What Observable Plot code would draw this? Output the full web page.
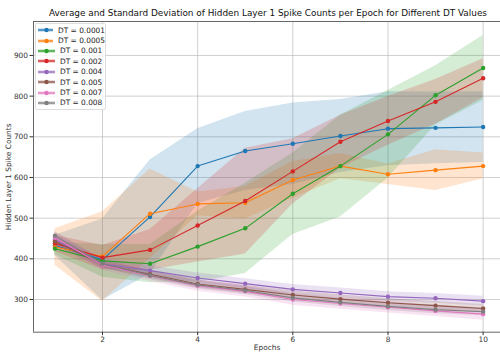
<!DOCTYPE html>
<html><head><meta charset="utf-8">
<script src="https://cdn.jsdelivr.net/npm/d3@7"></script>
<script src="https://cdn.jsdelivr.net/npm/@observablehq/plot@0.6"></script>
<style>
body{margin:0;background:#fff;font-family:"DejaVu Sans",sans-serif;}
#wrap{position:relative;width:500px;height:354px;overflow:hidden;background:#fff;}
#title{box-sizing:border-box;height:18px;padding-top:8px;line-height:11px;margin-left:33px;width:470px;text-align:center;font-size:8.9px;color:#111;white-space:nowrap;}
#legend{position:absolute;left:35px;top:23px;width:71px;height:87px;background:rgba(255,255,255,0.8);border:1px solid #ddd;border-radius:2px;box-sizing:border-box;padding-top:1px;}
.lrow{height:10.4px;display:flex;align-items:center;font-size:7.4px;color:#222;white-space:nowrap;}
.lrow svg{display:block;margin-left:2px;margin-right:5px;}
</style></head>
<body>
<div id="wrap">
<div id="title">Average and Standard Deviation of Hidden Layer 1 Spike Counts per Epoch for Different DT Values</div>
<div id="chart"></div>
<div id="legend"></div>
</div>
<script>
const epochs = [1, 2, 3, 4, 5, 6, 7, 8, 9, 10];
const dtLabels = ["DT = 0.0001", "DT = 0.0005", "DT = 0.001", "DT = 0.002", "DT = 0.004", "DT = 0.005", "DT = 0.007", "DT = 0.008"];
const colors = ["#1f77b4", "#ff7f0e", "#2ca02c", "#d62728", "#9467bd", "#8c564b", "#e377c2", "#7f7f7f"];

const mean0001 = [433, 398, 503, 628, 665, 683, 702, 720, 722, 724];
const std0001  = [25, 100, 140, 92, 97, 100, 90, 91, 88, 87];
const mean0005 = [429, 406, 511, 535, 538, 594, 628, 608, 618, 628];
const std0005  = [45, 110, 110, 29, 40, 45, 31, 25, 50, 32];
const mean001  = [425, 395, 388, 430, 475, 560, 628, 706, 802, 869];
const std001   = [15, 40, 47, 87, 111, 100, 125, 108, 73, 80];
const mean002  = [438, 403, 422, 482, 542, 615, 688, 739, 786, 844];
const std002   = [20, 30, 50, 90, 130, 80, 65, 60, 55, 48];
const mean004  = [447, 388, 371, 353, 339, 325, 316, 307, 303, 296];
const std004   = [12, 12, 12, 12, 12, 12, 12, 12, 12, 12];
const mean005  = [443, 386, 362, 338, 325, 311, 301, 292, 285, 278];
const std005   = [10, 10, 10, 10, 10, 10, 10, 10, 10, 10];
const mean007  = [452, 385, 358, 334, 320, 300, 290, 281, 272, 264];
const std007   = [14, 14, 14, 14, 14, 14, 14, 14, 14, 15];
const mean008  = [457, 388, 359, 336, 322, 304, 293, 283, 275, 270];
const std008   = [10, 10, 10, 10, 10, 10, 10, 10, 10, 10];

const xTicks = [2, 4, 6, 8, 10];
const yTicks = [300, 400, 500, 600, 700, 800, 900];
const xDomain = [0.55, 10.365];
const yDomain = [219.6, 983.5];

const means = [mean0001, mean0005, mean001, mean002, mean004, mean005, mean007, mean008];
const stds = [std0001, std0005, std001, std002, std004, std005, std007, std008];

const rows = [];
dtLabels.forEach((lab, i) => epochs.forEach((e, j) => rows.push({
  dt: lab, epoch: e, mean: means[i][j], lo: means[i][j] - stds[i][j], hi: means[i][j] + stds[i][j]
})));

const seriesMarks = dtLabels.flatMap(lab => {
  const d = rows.filter(r => r.dt === lab);
  return [
    Plot.line(d, {x: "epoch", y: "mean", stroke: "dt", strokeWidth: 1.1}),
    Plot.dot(d, {x: "epoch", y: "mean", fill: "dt", r: 2.2})
  ];
});

const chart = Plot.plot({
  width: 500,
  height: 336,
  marginTop: 3,
  marginBottom: 22.3,
  marginLeft: 33,
  marginRight: 0,
  style: {fontFamily: "DejaVu Sans, sans-serif", fontSize: "7.4px", color: "#333", background: "white"},
  x: {domain: xDomain},
  y: {domain: yDomain},
  color: {domain: dtLabels, range: colors},
  marks: [
    Plot.gridX(xTicks, {stroke: "#b0b0b0", strokeOpacity: 0.6}),
    Plot.gridY(yTicks, {stroke: "#b0b0b0", strokeOpacity: 0.6}),
    Plot.areaY(rows, {x: "epoch", y1: "lo", y2: "hi", fill: "dt", z: "dt", fillOpacity: 0.2}),
    ...seriesMarks,
    Plot.ruleX([xDomain[0]], {stroke: "#666", strokeWidth: 1}),
    Plot.ruleY([yDomain[0], yDomain[1]], {stroke: "#666", strokeWidth: 1}),
    Plot.axisX({ticks: xTicks, tickSize: 3.5, tickPadding: 1.5, label: "Epochs", labelAnchor: "center", labelArrow: "none", labelOffset: 18}),
    Plot.axisY({ticks: yTicks, tickSize: 3.5, tickPadding: 2, label: "Hidden Layer 1 Spike Counts", labelAnchor: "center", labelArrow: "none", labelOffset: 28})
  ]
});
document.getElementById("chart").appendChild(chart);

const legend = d3.select("#legend");
dtLabels.forEach((lab, i) => {
  const row = legend.append("div").attr("class", "lrow");
  const s = row.append("svg").attr("width", 17).attr("height", 8);
  s.append("line").attr("x1", 0).attr("x2", 17).attr("y1", 4).attr("y2", 4)
    .attr("stroke", colors[i]).attr("stroke-opacity", 0.45).attr("stroke-width", 3);
  s.append("line").attr("x1", 0).attr("x2", 17).attr("y1", 4).attr("y2", 4)
    .attr("stroke", colors[i]).attr("stroke-width", 1.1);
  s.append("circle").attr("cx", 8.5).attr("cy", 4).attr("r", 2.2).attr("fill", colors[i]);
  row.append("span").text(lab);
});
</script>
</body></html>
